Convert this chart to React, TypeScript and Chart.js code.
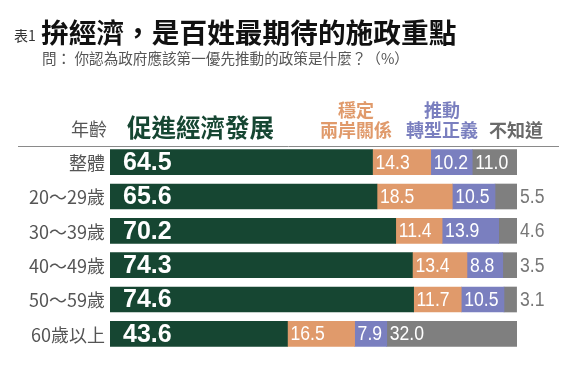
import React, { useEffect, useRef } from "react";
import { Chart, registerables } from "chart.js";

Chart.register(...registerables);

const categories = ["整體", "20～29歲", "30～39歲", "40～49歲", "50～59歲", "60歲以上"];
const economy = [64.5, 65.6, 70.2, 74.3, 74.6, 43.6];
const crossStrait = [14.3, 18.5, 11.4, 13.4, 11.7, 16.5];
const justice = [10.2, 10.5, 13.9, 8.8, 10.5, 7.9];
const unknown = [11.0, 5.5, 4.6, 3.5, 3.1, 32.0];

const seriesNames = ["促進經濟發展", "穩定兩岸關係", "推動轉型正義", "不知道"];
const titleText = "拚經濟，是百姓最期待的施政重點";
const tablePrefix = "表1";
const subtitleText = "問： 你認為政府應該第一優先推動的政策是什麼？（%）";
const ageHeader = "年齡";

const COLORS = ["#164632", "#e09a6b", "#7a7fbf", "#7f7f7f"];
const CJK = '"Noto Sans CJK TC", "Noto Sans CJK SC", sans-serif';
const NUM = '"Liberation Sans", Arial, sans-serif';

function narrowText(ctx: CanvasRenderingContext2D, txt: string, x: number, y: number, sx: number) {
  ctx.save();
  ctx.translate(x, y);
  ctx.scale(sx, 1);
  ctx.fillText(txt, 0, 0);
  ctx.restore();
}

const overlay = {
  id: "overlay",
  afterDatasetsDraw(chart: any) {
    const ctx = chart.ctx as CanvasRenderingContext2D;
    const area = chart.chartArea;
    const yScale = chart.scales.y;
    ctx.save();

    // Title
    ctx.textBaseline = "middle";
    ctx.textAlign = "left";
    ctx.fillStyle = "#333";
    ctx.font = `14px ${CJK}`;
    ctx.fillText(tablePrefix, 14, 36);
    ctx.fillStyle = "#111";
    ctx.font = `bold 27.7px ${CJK}`;
    ctx.fillText(titleText, 41, 32);
    ctx.fillStyle = "#555";
    ctx.font = `14.6px ${CJK}`;
    ctx.fillText(subtitleText, 42, 58);

    // Headers
    ctx.textAlign = "right";
    ctx.fillStyle = "#555";
    ctx.font = `18px ${CJK}`;
    ctx.fillText(ageHeader, 107, 129);

    ctx.textAlign = "left";
    ctx.fillStyle = COLORS[0];
    ctx.font = `bold 24.5px ${CJK}`;
    ctx.fillText(seriesNames[0], 127, 128);

    ctx.textAlign = "center";
    ctx.font = `bold 18px ${CJK}`;
    ctx.fillStyle = COLORS[1];
    ctx.fillText(seriesNames[1].slice(0, 2), 356, 110);
    ctx.fillText(seriesNames[1].slice(2), 356, 130);
    ctx.fillStyle = COLORS[2];
    ctx.fillText(seriesNames[2].slice(0, 2), 442, 110);
    ctx.fillText(seriesNames[2].slice(2), 442, 130);
    ctx.fillStyle = "#6a6a6a";
    ctx.fillText(seriesNames[3], 516, 130);

    // separator
    ctx.strokeStyle = "#8a8a8a";
    ctx.lineWidth = 1;
    ctx.beginPath();
    ctx.moveTo(18, 146.5);
    ctx.lineTo(559, 146.5);
    ctx.stroke();

    // Category labels
    ctx.textAlign = "right";
    ctx.fillStyle = "#555";
    ctx.font = `18px ${CJK}`;
    categories.forEach((c, i) => {
      ctx.fillText(c, 105, yScale.getPixelForValue(i) + 1);
    });

    // Values
    chart.data.datasets.forEach((ds: any, di: number) => {
      const meta = chart.getDatasetMeta(di);
      meta.data.forEach((bar: any, i: number) => {
        const v = ds.data[i] as number;
        const txt = v.toFixed(1);
        const start = Math.min(bar.base, bar.x);
        ctx.textAlign = "left";
        if (di === 0) {
          ctx.fillStyle = "#fff";
          ctx.font = `bold 25px ${NUM}`;
          ctx.fillText(txt, start + 13, bar.y + 1);
        } else if (di === 3 && v < 6) {
          ctx.fillStyle = "#777";
          ctx.font = `20px ${NUM}`;
          narrowText(ctx, txt, area.right + 3, bar.y + 1, 0.88);
        } else {
          ctx.fillStyle = "#fff";
          ctx.font = `20px ${NUM}`;
          narrowText(ctx, txt, start + 3, bar.y + 1, 0.88);
        }
      });
    });
    ctx.restore();
  },
};

export default function App() {
  const ref = useRef<HTMLCanvasElement>(null);
  useEffect(() => {
    if (!ref.current) return;
    const chart = new Chart(ref.current, {
      type: "bar",
      data: {
        labels: categories,
        datasets: [economy, crossStrait, justice, unknown].map((d, i) => ({
          label: seriesNames[i],
          data: d,
          backgroundColor: COLORS[i],
          borderWidth: 0,
          barThickness: 25,
        })),
      },
      options: {
        indexAxis: "y",
        responsive: false,
        maintainAspectRatio: false,
        animation: false,
        layout: { padding: { left: 110, right: 56, top: 145, bottom: 19 } },
        plugins: { legend: { display: false }, tooltip: { enabled: false }, title: { display: false } },
        scales: {
          x: { stacked: true, min: 0, max: 100, display: false },
          y: { stacked: true, display: false },
        },
      },
      plugins: [overlay],
    });
    return () => chart.destroy();
  }, []);
  return (
    <div style={{ position: "absolute", left: 0, top: 0, width: 573, height: 370, background: "#fff" }}>
      <canvas ref={ref} width={573} height={370} />
    </div>
  );
}
